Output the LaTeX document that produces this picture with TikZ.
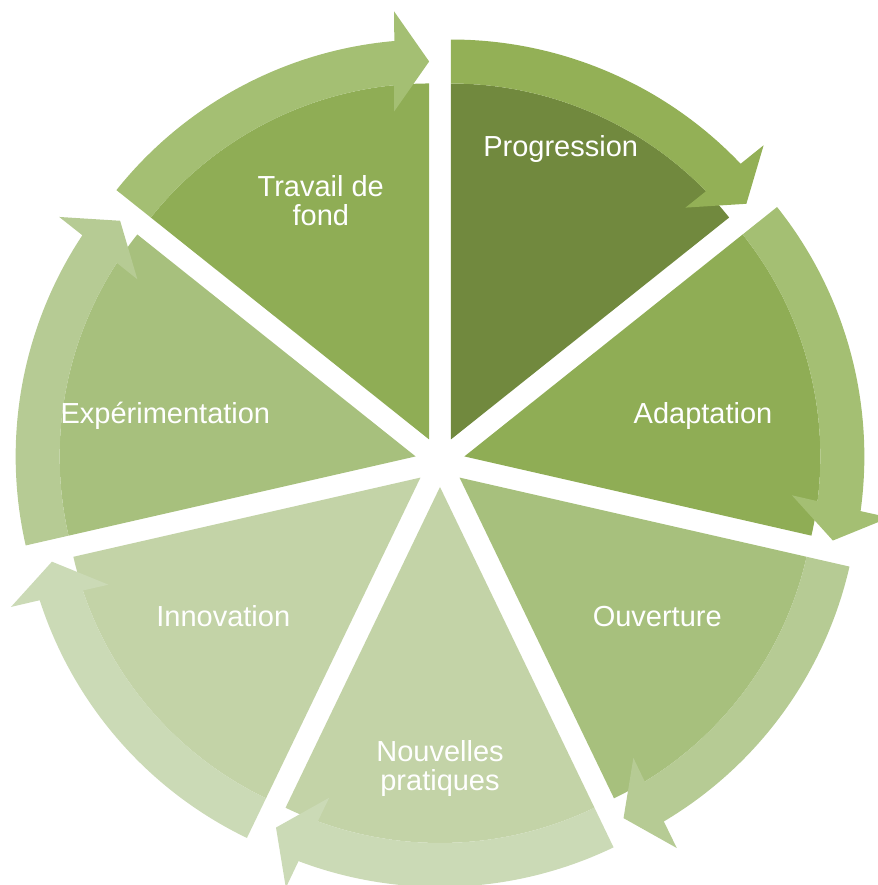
\documentclass[tikz,border=0pt]{standalone}
\usepackage{fontspec}
\setmainfont{Liberation Sans}

\definecolor{leafA}{HTML}{71893E}
\definecolor{leafB}{HTML}{8FAD55}
\definecolor{leafC}{HTML}{A7C07D}
\definecolor{leafD}{HTML}{C3D3A7}
\definecolor{bandA}{HTML}{93B056}
\definecolor{bandB}{HTML}{A4BF73}
\definecolor{bandC}{HTML}{B6CB94}
\definecolor{bandD}{HTML}{CBDAB6}

\tikzset{
    lbl/.style={text=white, inner sep=0pt, align=center,
        font=\fontsize{16.5}{16.3}\selectfont}
}

\begin{document}
\begin{tikzpicture}[x=0.02cm, y=0.02cm]
    \useasboundingbox (-440,-423) rectangle (437,462);
    % seven exploded wedges, each with its curved arrow
    \foreach \k/\seg/\arr in {0/leafA/bandA, 1/leafB/bandB, 2/leafC/bandC,
        3/leafD/bandD, 4/leafD/bandD, 5/leafC/bandC, 6/leafB/bandB}
    {
        \pgfmathsetmacro\endang{38.5714 - \k*51.4286}
        \pgfmathsetmacro\midang{\endang + 25.7143}
        \begin{scope}[shift={(\midang:25)}, rotate=\endang]
            \fill[\seg] (0,0) -- (51.43:356) arc[start angle=51.43, end angle=0, radius=356] -- cycle;
            \fill[\arr] (51.43:400) arc[start angle=51.43, end angle=5, radius=400]
                -- (428,35) -- (378,0) -- (328,35)
                -- (5.64:356) arc[start angle=5.64, end angle=51.43, radius=356] -- cycle;
        \end{scope}
    }
    \node[lbl, anchor=base] (progression) at (120.7,305.3) {Progression};
    \node[lbl, anchor=base] (adaptation) at (263,38) {Adaptation};
    \node[lbl, anchor=base] (ouverture) at (217.2,-164) {Ouverture};
    \node[lbl] (pratiques) at (0,-306.4) {Nouvelles\\pratiques};
    \node[lbl, anchor=base] (innovation) at (-216.7,-164) {Innovation};
    \node[lbl, anchor=base] (experimentation) at (-274.6,38) {Expérimentation};
    \node[lbl] (travail) at (-119.2,261.6) {Travail de\\fond};
\end{tikzpicture}
\end{document}
